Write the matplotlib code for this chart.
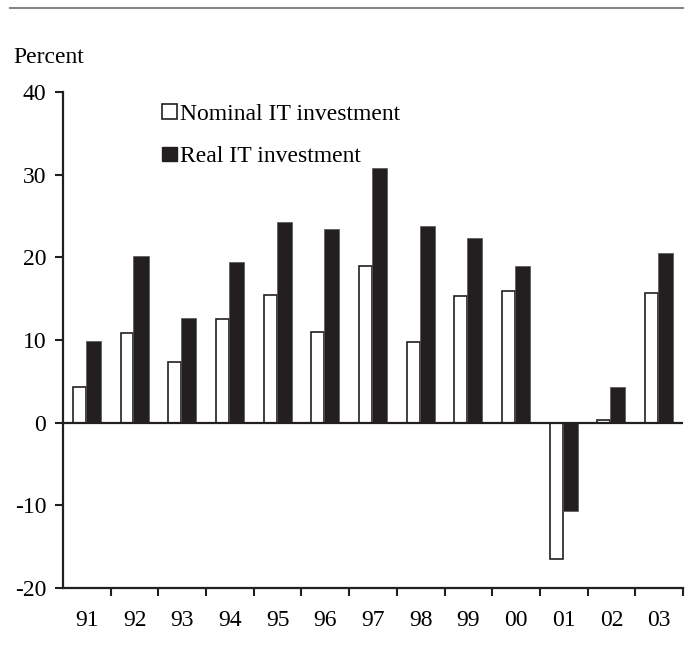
import matplotlib
matplotlib.use("Agg")
import matplotlib.pyplot as plt
from matplotlib.patches import Patch
from matplotlib.lines import Line2D
import numpy as np

years = ["91", "92", "93", "94", "95", "96", "97", "98", "99", "00", "01", "02", "03"]
nominal = [4.3, 10.9, 7.3, 12.6, 15.4, 11.0, 18.9, 9.7, 15.3, 15.9, -16.5, 0.3, 15.7]
real = [9.9, 20.2, 12.7, 19.4, 24.3, 23.4, 30.8, 23.8, 22.3, 18.9, -10.7, 4.3, 20.5]
yticks = [-20, -10, 0, 10, 20, 30, 40]

plt.rcParams['font.family'] = ['Liberation Serif', 'DejaVu Serif']
FS = 17
dark = '#231f20'

fig = plt.figure(figsize=(6.93, 6.53), dpi=100)
ax = fig.add_axes([63/693, 1-588/653, 620/693, (588-92)/653])

idx = np.arange(len(years))
ax.bar(idx + 0.342, nominal, width=0.27, color='white', edgecolor=dark, linewidth=1.2, zorder=2)
ax.bar(idx + 0.635, real, width=0.316, color=dark, edgecolor='#555555', linewidth=0.5, zorder=2)

ax.axhline(0, color=dark, linewidth=1.6, zorder=3)

ax.set_xlim(0, len(years))
ax.set_ylim(-20, 40)
ax.set_yticks(yticks)
ax.set_yticklabels([str(v) for v in yticks], fontsize=FS)
ax.set_xticks(np.arange(1, len(years) + 1))
ax.set_xticklabels([])
ax.set_xticks(idx + 0.5, minor=True)
ax.set_xticklabels(years, minor=True, fontsize=FS)
ax.tick_params(axis='x', which='major', direction='out', length=6, width=1.5, color=dark)
ax.tick_params(axis='x', which='minor', length=0, pad=16)
ax.tick_params(axis='y', direction='out', length=6, width=1.5, color=dark, pad=6)

for s in ['top', 'right']:
    ax.spines[s].set_visible(False)
for s in ['left', 'bottom']:
    ax.spines[s].set_linewidth(1.6)
    ax.spines[s].set_color(dark)

handles = [Patch(facecolor='white', edgecolor=dark, linewidth=1.2, label='Nominal IT investment'),
           Patch(facecolor=dark, edgecolor=dark, label='Real IT investment')]
fig.legend(handles=handles, loc='upper left', bbox_to_anchor=(162/693, 1-104/653),
           frameon=False, fontsize=FS, handlelength=0.62, handleheight=0.58,
           handletextpad=0.15, labelspacing=0.9, borderpad=0, borderaxespad=0)

fig.text(13/693, 1-63/653, 'Percent', fontsize=FS, va='baseline', ha='left')
fig.add_artist(Line2D([10/693, 683/693], [1-8/653, 1-8/653], color='#858585', linewidth=1.5))

fig.savefig('out.png', dpi=100)
